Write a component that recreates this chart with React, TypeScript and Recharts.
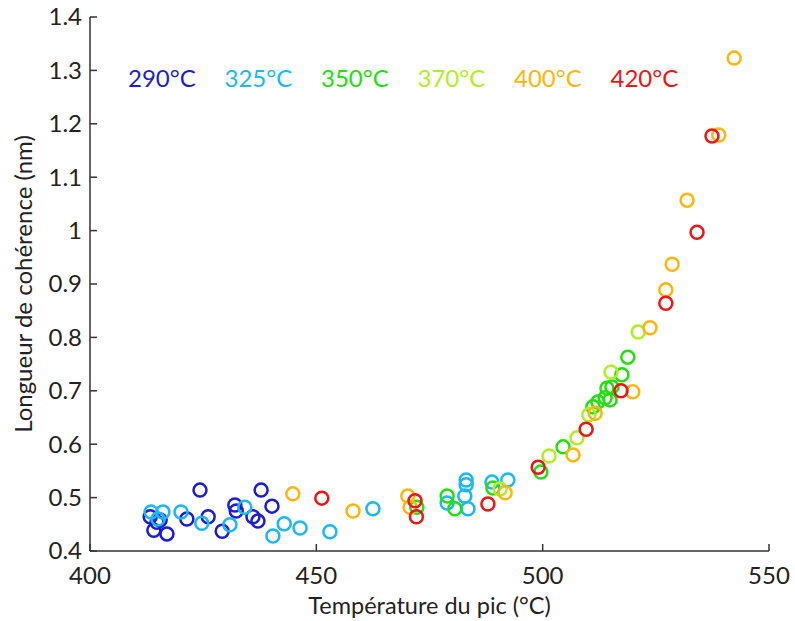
import React from 'react';
import { ScatterChart, Scatter, XAxis, YAxis } from 'recharts';

// each series: [temperature du pic, longueur de coherence]
const s290: [number, number][] = [
  [413.3, 0.464], [414.1, 0.439], [415.5, 0.458], [417.0, 0.432], [421.4, 0.46],
  [424.3, 0.514], [426.1, 0.464], [429.2, 0.437], [432.0, 0.486], [432.3, 0.475],
  [436.0, 0.464], [437.1, 0.456], [437.8, 0.514], [440.2, 0.484], [414.8, 0.454],
];
const s325: [number, number][] = [
  [413.5, 0.473], [416.1, 0.473], [420.1, 0.473], [415.0, 0.46], [424.7, 0.452],
  [430.9, 0.449], [434.2, 0.482], [440.4, 0.428], [442.9, 0.451], [446.4, 0.443],
  [453.0, 0.436], [462.5, 0.479], [483.1, 0.533], [483.1, 0.524], [482.8, 0.503],
  [483.5, 0.479], [478.9, 0.49], [488.8, 0.529], [492.3, 0.533],
];
const s350: [number, number][] = [
  [472.2, 0.482], [478.9, 0.503], [480.6, 0.479], [489.0, 0.518], [499.6, 0.548],
  [504.5, 0.595], [511.1, 0.67], [512.2, 0.679], [513.8, 0.687], [514.9, 0.683],
  [514.2, 0.705], [515.3, 0.707], [517.5, 0.73], [518.8, 0.763],
];
const s370: [number, number][] = [
  [490.6, 0.516], [501.4, 0.578], [507.6, 0.612], [510.2, 0.655], [515.1, 0.735], [521.1, 0.81],
];
const s400: [number, number][] = [
  [444.8, 0.507], [458.1, 0.475], [470.2, 0.503], [470.7, 0.482], [491.7, 0.509],
  [506.7, 0.58], [511.6, 0.658], [519.9, 0.698], [523.7, 0.818], [527.2, 0.889],
  [528.6, 0.937], [531.9, 1.057], [538.9, 1.179], [542.3, 1.323],
];
const s420: [number, number][] = [
  [451.2, 0.499], [471.8, 0.494], [472.1, 0.464], [487.9, 0.488], [499.0, 0.557],
  [509.6, 0.628], [517.3, 0.7], [527.2, 0.864], [534.1, 0.997], [537.4, 1.177],
];

const seriesNames = ['290°C', '325°C', '350°C', '370°C', '400°C', '420°C'];
const seriesColors = ['#1c1cd8', '#1ab8f4', '#22e010', '#b0f020', '#ffb60a', '#f01414'];
const seriesData = [s290, s325, s350, s370, s400, s420];

const xTicks = [400, 450, 500, 550];
const yTicks = [0.4, 0.5, 0.6, 0.7, 0.8, 0.9, 1.0, 1.1, 1.2, 1.3, 1.4];

const FONT = 'Lato, "Open Sans", sans-serif';
const AXIS = '#333';
const TICK = 7;

const YTick = (props: any) => {
  const { x, y, payload } = props;
  return (
    <g>
      <line x1={x + 8} y1={y} x2={x + 8 + TICK} y2={y} stroke={AXIS} strokeWidth={1.5} />
      <text x={x} y={y} dy="0.35em" textAnchor="end" fontSize={24} fill="#222" fontFamily={FONT}>
        {String(parseFloat(Number(payload.value).toFixed(1)))}
      </text>
    </g>
  );
};

const XTick = (props: any) => {
  const { x, y, payload } = props;
  return (
    <g>
      <line x1={x} y1={y - 16} x2={x} y2={y - 16 - TICK} stroke={AXIS} strokeWidth={1.5} />
      <text x={x} y={y} dy="0.71em" textAnchor="middle" fontSize={24} fill="#222" fontFamily={FONT}>
        {payload.value}
      </text>
    </g>
  );
};

const YTitle = (props: any) => {
  const cy = props.viewBox ? props.viewBox.y + props.viewBox.height / 2 : 284;
  return (
    <text
      x={24}
      y={cy}
      dy="0.35em"
      transform={`rotate(-90 24 ${cy})`}
      textAnchor="middle"
      fontSize={24}
      fill="#222"
      fontFamily={FONT}
    >
      Longueur de cohérence (nm)
    </text>
  );
};

const XTitle = (props: any) => {
  const cx = props.viewBox ? props.viewBox.x + props.viewBox.width / 2 : 430;
  return (
    <text x={cx} y={606} dy="0.35em" textAnchor="middle" fontSize={23.5} fill="#222" fontFamily={FONT}>
      Température du pic (°C)
    </text>
  );
};

const ring = (color: string) => (props: any) => (
  <circle cx={props.cx} cy={props.cy} r={6.5} fill="none" stroke={color} strokeWidth={2.5} />
);

export default function App() {
  return (
    <div style={{ position: 'absolute', left: 0, top: 0, width: 795, height: 621, background: '#fff' }}>
      <ScatterChart width={795} height={621} margin={{ top: 17, right: 26, left: 0, bottom: 0 }}>
        <XAxis
          type="number"
          dataKey="0"
          domain={[400, 550]}
          ticks={xTicks}
          height={70}
          axisLine={{ stroke: AXIS, strokeWidth: 1.5 }}
          tickLine={false}
          tickSize={0}
          tickMargin={16}
          tick={<XTick />}
          label={<XTitle />}
        />
        <YAxis
          type="number"
          dataKey="1"
          domain={[0.4, 1.4]}
          ticks={yTicks}
          width={90}
          axisLine={{ stroke: AXIS, strokeWidth: 1.5 }}
          tickLine={false}
          tickSize={0}
          tickMargin={8}
          tick={<YTick />}
          label={<YTitle />}
        />
        {seriesData.map((d, i) => (
          <Scatter key={seriesNames[i]} name={seriesNames[i]} data={d} shape={ring(seriesColors[i])} isAnimationActive={false} />
        ))}
      </ScatterChart>
      {seriesNames.map((n, i) => (
        <div
          key={n}
          style={{
            position: 'absolute',
            left: 128 + i * 96.5,
            top: 64,
            fontFamily: FONT,
            fontSize: 24,
            lineHeight: '28px',
            color: seriesColors[i],
            whiteSpace: 'nowrap',
          }}
        >
          {n}
        </div>
      ))}
    </div>
  );
}
